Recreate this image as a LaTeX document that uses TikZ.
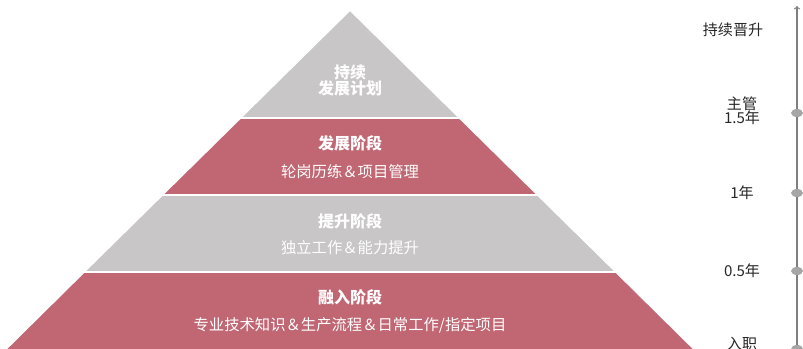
\documentclass[tikz,border=0pt]{standalone}
\usepackage{fontspec}
\setmainfont{Noto Sans CJK SC}
\usepackage{xcolor}
\usepackage{tikz}
\definecolor{bandred}{HTML}{C16673}
\definecolor{bandgray}{HTML}{C8C6C7}
\definecolor{axisgray}{HTML}{7F7F7F}
\definecolor{dotgray}{HTML}{A6A6A6}
\definecolor{labeltext}{HTML}{262626}

\begin{document}
\begin{tikzpicture}[x=0.75pt,y=-0.75pt,
    title/.style={text=white,font=\fontsize{12}{14}\selectfont\bfseries},
    sub/.style={text=white,font=\fontsize{11.5}{13}\selectfont},
    mark label/.style={text=labeltext,font=\fontsize{11.3}{13.5}\selectfont,align=center},
    band/.style={draw=white,line width=1.2pt}]
    \useasboundingbox (0,0) rectangle (803,349);

    % Pyramid bands
    \draw[band,fill=bandgray] (350,10) -- (459.6,118) -- (240.4,118) -- cycle;
    \draw[band,fill=bandred] (240.4,118) -- (459.6,118) -- (537.8,195) -- (162.2,195) -- cycle;
    \draw[band,fill=bandgray] (162.2,195) -- (537.8,195) -- (616,272) -- (84,272) -- cycle;
    \draw[band,fill=bandred] (84,272) -- (616,272) -- (700,355) -- (0,355) -- cycle;

    % Band texts
    \node[title,align=center] (top) at (350,80) {持续\\[-2pt]发展计划};
    \node[title] (devt) at (350,143) {发展阶段};
    \node[sub] (devs) at (350,172) {轮岗历练＆项目管理};
    \node[title] (upt) at (350,221) {提升阶段};
    \node[sub] (ups) at (350,248) {独立工作＆能力提升};
    \node[title] (int) at (350,297) {融入阶段};
    \node[sub] (ins) at (350,325) {专业技术知识＆生产流程＆日常工作/指定项目};

    % Time axis
    \coordinate (axbot) at (797,349);
    \coordinate (axtop) at (797,6);
    \draw[axisgray,line width=0.8pt,->] (axbot) -- (axtop);
    \foreach \y in {113,193,271,349}
        \fill[dotgray] (797,\y) ellipse (6 and 4);

    % Axis labels
    \node[mark label] (promo) at (733,30) {持续晋升};
    \node[mark label] (boss) at (742,111) {主管\\[-3pt]1.5年};
    \node[mark label] (one) at (742,193) {1年};
    \node[mark label] (half) at (742,271) {0.5年};
    \node[mark label] (entry) at (742,344) {入职};
\end{tikzpicture}
\end{document}
